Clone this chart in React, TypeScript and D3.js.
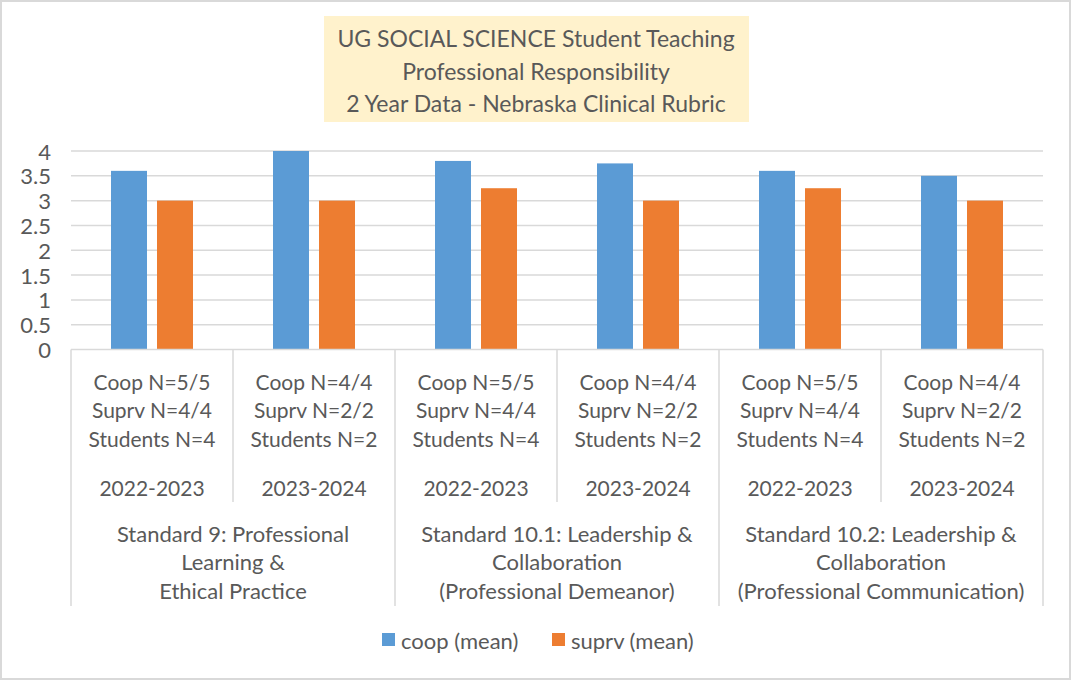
import React from 'react';
import * as d3 from 'd3';

const titleLines = [
  'UG SOCIAL SCIENCE Student Teaching',
  'Professional Responsibility',
  '2 Year Data - Nebraska Clinical Rubric',
];

const groups = ['g1', 'g2', 'g3', 'g4', 'g5', 'g6'];
const countLabels = [
  ['Coop N=5/5', 'Suprv N=4/4', 'Students N=4'],
  ['Coop N=4/4', 'Suprv N=2/2', 'Students N=2'],
  ['Coop N=5/5', 'Suprv N=4/4', 'Students N=4'],
  ['Coop N=4/4', 'Suprv N=2/2', 'Students N=2'],
  ['Coop N=5/5', 'Suprv N=4/4', 'Students N=4'],
  ['Coop N=4/4', 'Suprv N=2/2', 'Students N=2'],
];
const years = ['2022-2023', '2023-2024', '2022-2023', '2023-2024', '2022-2023', '2023-2024'];
const standards = [
  ['Standard 9: Professional', 'Learning &', 'Ethical Practice'],
  ['Standard 10.1: Leadership &', 'Collaboration', '(Professional Demeanor)'],
  ['Standard 10.2: Leadership &', 'Collaboration', '(Professional Communication)'],
];

const seriesNames = ['coop (mean)', 'suprv (mean)'];
const seriesColors = ['#5B9BD5', '#ED7D31'];
const coopMean = [3.6, 4.0, 3.8, 3.75, 3.6, 3.5];
const suprvMean = [3.0, 3.0, 3.25, 3.0, 3.25, 3.0];
const yTicks = [0, 0.5, 1, 1.5, 2, 2.5, 3, 3.5, 4];

const W = 1071;
const H = 680;
const FONT = 'Lato, "Open Sans", sans-serif';
const TEXT = '#595959';
const GRID = '#D9D9D9';

export default function App() {
  const x0 = d3.scaleBand<string>().domain(groups).range([71, 1043]).paddingInner(0);
  const x1 = d3.scaleBand<number>().domain([0, 1]).range([40, 122]).paddingInner(10 / 46);
  const y = d3.scaleLinear().domain([0, 4]).range([349.5, 151]);
  const values = [coopMean, suprvMean];
  const bw = x0.bandwidth();
  const base = y(0);

  return (
    <div style={{ position: 'absolute', left: 0, top: 0 }}>
      <svg width={W} height={H} xmlns="http://www.w3.org/2000/svg" style={{ display: 'block', fontFamily: FONT }}>
        <rect x={0} y={0} width={W} height={H} fill="#fff" />
        <rect x={1} y={1} width={W - 2} height={H - 2} fill="none" stroke={GRID} strokeWidth={2} />

        {/* title */}
        <rect x={324} y={16} width={425} height={106} fill="#FFF2CC" />
        {titleLines.map((t, i) => (
          <text key={t} x={536} y={38 + i * 32.5} textAnchor="middle" dominantBaseline="central" fontSize={23} fill={TEXT}>
            {t}
          </text>
        ))}

        {/* gridlines */}
        {yTicks.slice(1).map((v) => (
          <line key={v} x1={71} x2={1043} y1={y(v)} y2={y(v)} stroke={GRID} strokeWidth={1.5} />
        ))}
        {yTicks.map((v) => (
          <text key={'t' + v} x={51} y={y(v)} textAnchor="end" dominantBaseline="central" fontSize={22} fill={TEXT}>
            {v}
          </text>
        ))}

        {/* bars */}
        {groups.map((g, gi) =>
          values.map((vals, si) => (
            <rect
              key={g + si}
              x={(x0(g) as number) + (x1(si) as number)}
              y={y(vals[gi])}
              width={x1.bandwidth()}
              height={base - y(vals[gi])}
              fill={seriesColors[si]}
            />
          ))
        )}

        {/* axis */}
        <line x1={71} x2={1043} y1={base} y2={base} stroke={GRID} strokeWidth={1.5} />
        {d3.range(7).map((i) => {
          const xx = 71 + i * bw;
          const outer = i % 2 === 0;
          return <line key={'s' + i} x1={xx} x2={xx} y1={base} y2={outer ? 606 : 502} stroke={GRID} strokeWidth={1.5} />;
        })}

        {groups.map((g, gi) => {
          const cx = (x0(g) as number) + bw / 2;
          return (
            <g key={'l' + g}>
              {countLabels[gi].map((t, li) => (
                <text key={li} x={cx} y={381 + li * 28.5} textAnchor="middle" dominantBaseline="central" fontSize={21} fill={TEXT}>
                  {t}
                </text>
              ))}
              <text x={cx} y={487} textAnchor="middle" dominantBaseline="central" fontSize={21} fill={TEXT}>
                {years[gi]}
              </text>
            </g>
          );
        })}
        {standards.map((lines, si) => {
          const cx = 71 + bw * (2 * si + 1);
          return lines.map((t, li) => (
            <text key={si + '-' + li} x={cx} y={533 + li * 28.5} textAnchor="middle" dominantBaseline="central" fontSize={22} fill={TEXT}>
              {t}
            </text>
          ));
        })}

        {/* legend */}
        {seriesNames.map((n, i) => {
          const lx = i === 0 ? 382 : 552;
          return (
            <g key={n}>
              <rect x={lx} y={633} width={13} height={13} fill={seriesColors[i]} />
              <text x={lx + 19} y={640} dominantBaseline="central" fontSize={22} fill={TEXT}>
                {n}
              </text>
            </g>
          );
        })}
      </svg>
    </div>
  );
}
